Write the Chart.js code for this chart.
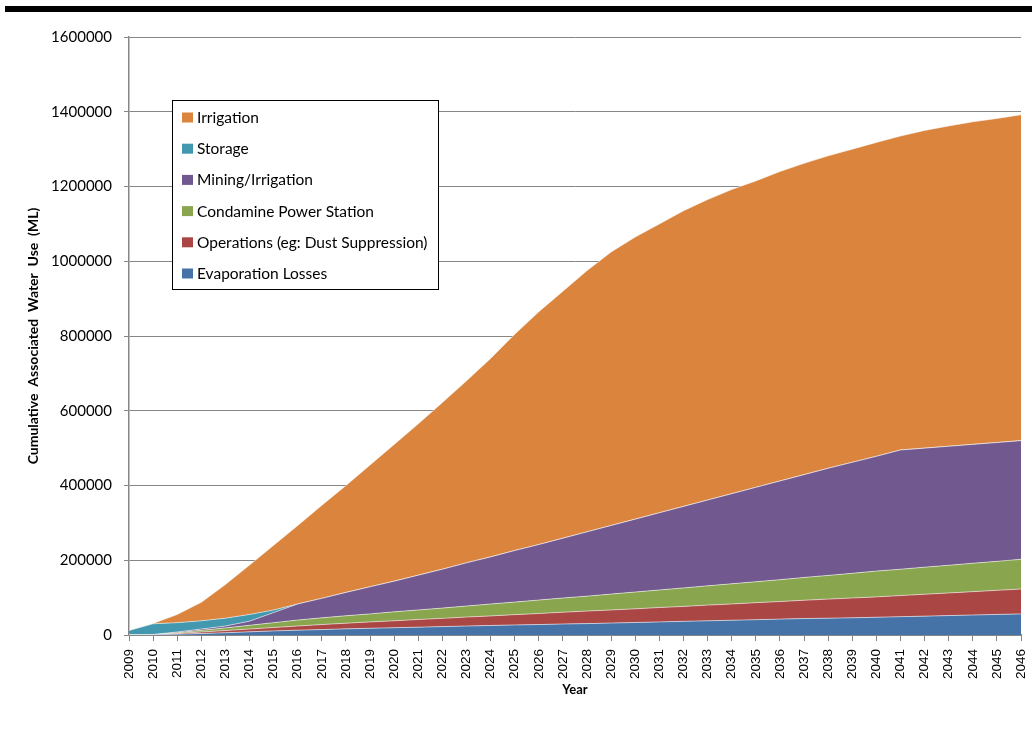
<!DOCTYPE html>
<html><head><meta charset="utf-8">
<script src="https://cdn.jsdelivr.net/npm/chart.js@4.4.1/dist/chart.umd.min.js"></script>
<style>
html,body{margin:0;padding:0;background:#fff;}
#wrap{position:relative;width:1032px;height:736px;}
#bar{position:absolute;left:5px;top:6px;width:1027px;height:6px;background:#000;}
canvas{position:absolute;left:0;top:0;}
</style></head><body>
<div id="wrap"><canvas id="c" width="1032" height="736"></canvas><div id="bar"></div></div>
<script>
const years = ['2009','2010','2011','2012','2013','2014','2015','2016','2017','2018','2019','2020','2021','2022','2023','2024','2025','2026','2027','2028','2029','2030','2031','2032','2033','2034','2035','2036','2037','2038','2039','2040','2041','2042','2043','2044','2045','2046'];

const evaporationLosses = [0,500,2000,4000,6000,8500,11000,13000,14500,16500,18000,19500,21000,22500,24000,25500,27000,28000,29500,30500,32000,33500,35000,36500,38000,39500,41000,42500,44000,45000,46000,47500,49000,50500,52000,53500,55000,56500];
const operations = [0,500,2000,4000,6000,7500,9000,11000,13500,15000,17000,18500,20500,22000,24000,25500,27500,29500,31500,33500,35000,36500,38500,40000,42000,43500,45500,47000,49000,51000,53000,54500,56500,58500,60500,62500,64500,66500];
const condaminePowerStation = [0,0,2000,4500,7000,10000,13000,16000,18000,20000,21500,24000,25500,27500,29500,32000,33500,36000,38000,40000,42500,45000,47000,49500,51500,54000,56000,58500,61000,63500,66000,69000,70500,72500,74000,76000,77500,79500];
const miningIrrigation = [0,500,2000,3500,5000,11000,27000,43000,52000,62500,72500,82000,93000,104000,115500,126000,138000,148500,160000,172000,183500,195000,206500,218000,229500,241000,252500,264000,275000,286500,297000,307000,319000,318500,318500,318000,318000,317500];
const storage = [12000,28500,25000,22000,21000,18000,7000,0,0,0,0,0,0,0,0,0,0,0,0,0,0,0,0,0,0,0,0,0,0,0,0,0,0,0,0,0,0,0];
const irrigation = [0,1000,22000,49500,90000,132000,173000,210000,249000,286000,326000,366000,405000,446000,487000,531000,579000,623000,661000,699000,732000,755000,773000,791000,804000,814000,820000,828000,833000,836000,838000,840000,840000,850000,857000,863000,867000,872000];

const yTicks = [0,200000,400000,600000,800000,1000000,1200000,1400000,1600000];

const seriesNames = ['Evaporation Losses','Operations (eg: Dust Suppression)','Condamine Power Station','Mining/Irrigation','Storage','Irrigation'];
const seriesValues = [evaporationLosses, operations, condaminePowerStation, miningIrrigation, storage, irrigation];
const seriesColors = ['#4572A7','#AA4643','#89A54E','#71588F','#4198AF','#DB843D'];

const datasets = seriesNames.map((name,i)=>({
  label: name,
  data: seriesValues[i],
  backgroundColor: seriesColors[i],
  borderColor: 'rgba(255,255,255,0.55)',
  borderWidth: 1,
  fill: i === 0 ? 'origin' : '-1',
  pointRadius: 0,
  tension: 0
}));

const boxLegend = {
  id: 'boxLegend',
  afterDraw(chart){
    const ctx = chart.ctx;
    ctx.save();
    ctx.fillStyle = '#fff';
    ctx.fillRect(172,100,267,190);
    ctx.strokeStyle = '#000';
    ctx.lineWidth = 1;
    ctx.strokeRect(172.5,100.5,266,189);
    const ds = chart.data.datasets.slice().reverse();
    ctx.font = '15.5px Lato';
    ctx.textBaseline = 'middle';
    ds.forEach((d,i)=>{
      const y = 117.5 + i*31.2;
      ctx.fillStyle = d.backgroundColor;
      ctx.fillRect(182,y-5,11,10);
      ctx.fillStyle = '#000';
      ctx.fillText(d.label,197,y+0.5);
    });
    ctx.restore();
  }
};

new Chart(document.getElementById('c'), {
  type: 'line',
  data: { labels: years, datasets: datasets },
  plugins: [boxLegend],
  options: {
    responsive: false,
    animation: false,
    devicePixelRatio: 1,
    layout: { padding: { left: 0, right: 11, top: 37, bottom: 0 } },
    plugins: { legend: { display: false }, tooltip: { enabled: false } },
    scales: {
      x: {
        type: 'category',
        offset: false,
        grid: { display: true, drawOnChartArea: false, drawTicks: true, tickLength: 6, color: '#868686' },
        border: { color: '#868686', width: 2 },
        ticks: { minRotation: 90, maxRotation: 90, autoSkip: false, padding: 8, color: '#000',
                 font: { family: 'Liberation Sans, Arial, sans-serif', size: 13.5 } },
        title: { display: true, text: 'Year', color: '#000',
                 font: { family: 'Lato', weight: 'bold', size: 13 }, padding: { top: 0, bottom: 38 } },
        afterFit(s){ s.height = 101; s.paddingLeft = 0; s.paddingRight = 0; }
      },
      y: {
        stacked: true,
        min: 0, max: 1600000,
        afterBuildTicks(s){ s.ticks = yTicks.map(v=>({value:v})); },
        ticks: { padding: 12, color: '#000', font: { family: 'Lato', size: 15 }, callback: v => String(v) },
        grid: { color: '#868686', lineWidth: 1, tickLength: 5 },
        border: { color: '#868686', width: 1.5 },
        title: { display: true, text: 'Cumulative  Associated  Water  Use  (ML)', color: '#000',
                 font: { family: 'Lato', weight: 'bold', size: 14 }, padding: { top: 25, bottom: 0 } },
        afterFit(s){ s.width = 129; s.paddingTop = 0; s.paddingBottom = 0; }
      }
    }
  }
});
</script>
</body></html>
